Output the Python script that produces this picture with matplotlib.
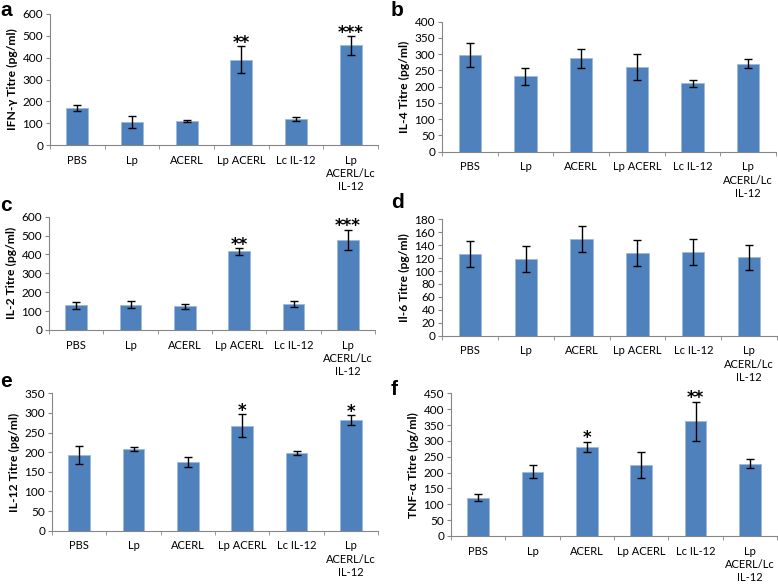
import numpy as np
import matplotlib.pyplot as plt

plt.rcParams['font.family'] = ['Lato', 'DejaVu Sans']

groups = ['PBS', 'Lp', 'ACERL', 'Lp ACERL', 'Lc IL-12', 'Lp\nACERL/Lc\nIL-12']

ifng = [168, 106, 110, 390, 119, 456]
ifng_err = [14, 27, 3, 62, 10, 43]
il4 = [298, 232, 287, 261, 210, 271]
il4_err = [37, 27, 29, 40, 11, 13]
il2 = [131, 134, 126, 416, 138, 478]
il2_err = [18, 20, 14, 18, 15, 53]
il6 = [127, 119, 149, 128, 130, 121]
il6_err = [20, 20, 20, 20, 20, 20]
il12 = [193, 208, 175, 267, 197, 282]
il12_err = [24, 4, 14, 29, 5, 12]
tnfa = [120, 203, 282, 224, 362, 228]
tnfa_err = [11, 20, 16, 42, 62, 14]

ifng_stars = ['', '', '', '**', '', '***']
il2_stars = ['', '', '', '**', '', '***']
il12_stars = ['', '', '', '*', '', '*']
tnfa_stars = ['', '', '*', '', '**', '']
no_stars = [''] * 6

W, H = 778, 585
fig = plt.figure(figsize=(W / 100, H / 100), dpi=100)


def panel(box, vals, errs, stars, ymax, step, ylab, letter, letter_xy):
    # box = left, right, top, bottom in pixels
    l, r, t, b = box
    ax = fig.add_axes([l / W, 1 - b / H, (r - l) / W, (b - t) / H])
    x = np.arange(len(vals))
    ax.bar(x, vals, width=0.4, color='#4F81BD', edgecolor='#9DB9DC', linewidth=0.6)
    ax.errorbar(x, vals, yerr=errs, fmt='none', ecolor='black', elinewidth=1,
                capsize=3, capthick=1)
    for xi, v, e, s in zip(x, vals, errs, stars):
        if s:
            ax.annotate(s, (xi, v + e), xytext=(0, -4), textcoords='offset points',
                        ha='center', va='bottom', fontsize=12, fontweight='bold',
                        family='DejaVu Sans')
    ax.set_xlim(-0.5, len(vals) - 0.5)
    ax.set_ylim(0, ymax)
    ax.set_yticks(np.arange(0, ymax + 1, step))
    ax.set_xticks(x)
    ax.set_xticklabels(groups, fontsize=8, linespacing=1.25)
    ax.set_xticks(np.arange(-0.5, len(vals), 1), minor=True)
    ax.tick_params(axis='x', which='major', length=0, pad=7)
    ax.tick_params(axis='x', which='minor', length=3, color='#868686')
    ax.tick_params(axis='y', length=3, color='#868686', labelsize=8.5, pad=2)
    for sp in ['top', 'right']:
        ax.spines[sp].set_visible(False)
    for sp in ['left', 'bottom']:
        ax.spines[sp].set_color('#868686')
        ax.spines[sp].set_linewidth(0.8)
    ax.set_ylabel(ylab, fontsize=8.7, fontweight='bold', labelpad=3)
    fig.text(letter_xy[0] / W, 1 - letter_xy[1] / H, letter, fontsize=15,
             fontweight='bold', family='Liberation Sans', va='top', ha='left')
    return ax


panel((50, 378, 14, 145), ifng, ifng_err, ifng_stars, 600, 100,
      'IFN-γ Titre (pg/ml)', 'a', (0, 1))
panel((442, 776, 21.7, 151.7), il4, il4_err, no_stars, 400, 50,
      'IL-4 Titre (pg/ml)', 'b', (391, 1))
panel((49, 375, 216.7, 330), il2, il2_err, il2_stars, 600, 100,
      'IL-2 Titre (pg/ml)', 'c', (0, 196))
panel((442, 777, 219.3, 335.7), il6, il6_err, no_stars, 180, 20,
      'Il-6 Titre (pg/ml)', 'd', (391, 193))
panel((52, 378, 393.3, 530.7), il12, il12_err, il12_stars, 350, 50,
      'IL-12 Titre (pg/ml)', 'e', (0, 372))
panel((451, 777, 393.3, 536), tnfa, tnfa_err, tnfa_stars, 450, 50,
      'TNF-α Titre (pg/ml)', 'f', (391, 380))

fig.savefig('out.png', dpi=100)
